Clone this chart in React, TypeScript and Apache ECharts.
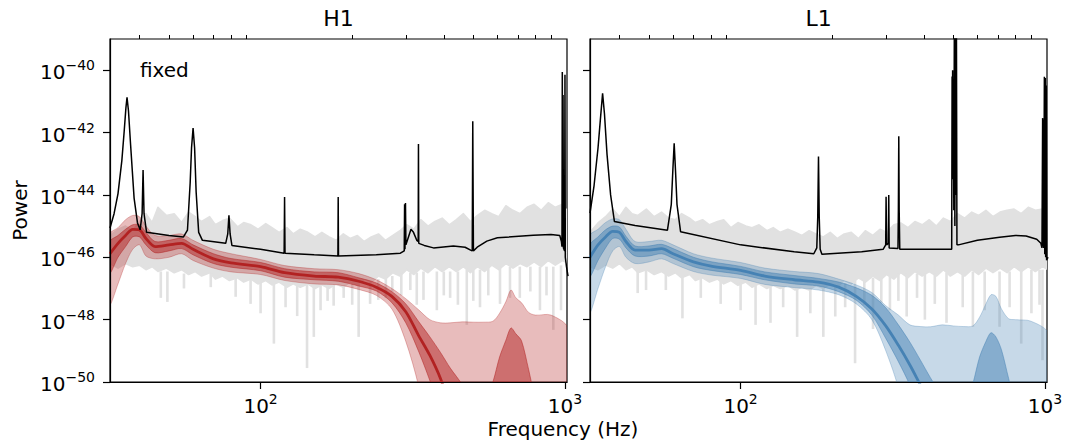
import React, { useEffect, useRef } from "react";
import * as echarts from "echarts";

// ---- axes ----
const FREQ_MIN = 32;
const FREQ_MAX = 1016;
const POWER_MIN = 1e-50;
const POWER_MAX = 1e-39;
const yTickValues = [1e-50, 1e-48, 1e-46, 1e-44, 1e-42, 1e-40];
const xMajorTicks = [100, 1000];
const xMinorTicks = [40, 50, 60, 70, 80, 90, 200, 300, 400, 500, 600, 700, 800, 900];
const panelTitles = ["H1", "L1"];

// ---- measured data (light gray periodogram: upper / lower edge of the dense trace) ----
const grayFreq = [32, 34, 36, 38, 40, 42, 44, 46, 49, 52, 55, 58, 61, 64, 68, 71, 75, 79, 84, 88, 93, 98, 104, 109, 115, 122, 128, 135, 143, 151, 159, 168, 177, 187, 197, 208, 219, 231, 244, 257, 272, 287, 302, 319, 336, 355, 374, 395, 417, 440, 464, 489, 516, 545, 575, 606, 640, 675, 712, 751, 792, 836, 882, 930, 982, 1024];
const h1GrayHi = [5.0e-46, 7.9e-46, 1.0e-45, 7.1e-46, 1.4e-45, 2.5e-45, 1.3e-45, 4.0e-45, 2.2e-45, 2.5e-45, 1.3e-45, 2.8e-45, 2.0e-45, 1.4e-45, 2.0e-45, 1.1e-45, 1.5e-45, 1.8e-45, 9.5e-46, 1.3e-45, 1.1e-45, 7.9e-46, 1.2e-45, 8.9e-46, 6.3e-46, 8.9e-46, 5.6e-46, 7.9e-46, 6.3e-46, 4.5e-46, 6.3e-46, 4.5e-46, 3.5e-46, 5.6e-46, 4.0e-46, 5.0e-46, 3.2e-46, 4.5e-46, 5.6e-46, 3.5e-46, 5.0e-46, 7.1e-46, 1.1e-45, 7.9e-46, 1.6e-45, 1.0e-45, 1.4e-45, 1.8e-45, 1.1e-45, 1.6e-45, 2.5e-45, 1.4e-45, 2.2e-45, 3.2e-45, 2.5e-45, 2.0e-45, 4.5e-45, 3.2e-45, 2.5e-45, 4.0e-45, 5.0e-45, 3.2e-45, 5.6e-45, 4.0e-45, 5.0e-45, 2.8e-45];
const h1GrayLo = [6.3e-47, 4.5e-47, 6.3e-47, 5.0e-47, 5.6e-47, 4.0e-47, 5.0e-47, 3.5e-47, 4.5e-47, 3.2e-47, 4.0e-47, 2.8e-47, 3.5e-47, 2.5e-47, 3.2e-47, 2.0e-47, 2.5e-47, 1.8e-47, 2.2e-47, 1.6e-47, 2.0e-47, 1.4e-47, 1.8e-47, 1.3e-47, 1.6e-47, 1.1e-47, 1.4e-47, 1.1e-47, 1.4e-47, 1.0e-47, 1.3e-47, 1.0e-47, 1.4e-47, 1.1e-47, 1.6e-47, 1.3e-47, 2.0e-47, 1.6e-47, 2.5e-47, 2.0e-47, 3.2e-47, 2.5e-47, 4.0e-47, 2.8e-47, 4.5e-47, 3.2e-47, 5.0e-47, 3.5e-47, 5.0e-47, 3.5e-47, 5.0e-47, 3.2e-47, 5.0e-47, 3.5e-47, 5.6e-47, 4.0e-47, 6.3e-47, 4.5e-47, 6.3e-47, 5.0e-47, 7.1e-47, 5.0e-47, 7.9e-47, 5.6e-47, 7.9e-47, 6.3e-47];
const l1GrayHi = [6.3e-46, 1.26e-45, 2.0e-45, 3.5e-45, 2.0e-45, 4.0e-45, 2.5e-45, 2.2e-45, 3.5e-45, 2.0e-45, 2.8e-45, 1.8e-45, 1.6e-45, 2.5e-45, 1.8e-45, 1.3e-45, 1.6e-45, 1.1e-45, 1.4e-45, 1.6e-45, 8.9e-46, 1.3e-45, 1.0e-45, 8.9e-46, 1.1e-45, 7.1e-46, 8.9e-46, 6.3e-46, 7.9e-46, 6.3e-46, 5.0e-46, 7.1e-46, 5.6e-46, 4.5e-46, 6.3e-46, 4.0e-46, 5.6e-46, 6.3e-46, 4.0e-46, 7.1e-46, 5.0e-46, 7.9e-46, 6.3e-46, 1.1e-45, 1.26e-45, 8.9e-46, 1.4e-45, 1.1e-45, 1.6e-45, 1.0e-45, 1.8e-45, 1.4e-45, 2.5e-45, 1.8e-45, 2.8e-45, 2.2e-45, 3.2e-45, 2.0e-45, 2.8e-45, 3.2e-45, 3.5e-45, 2.5e-45, 4.0e-45, 3.2e-45, 3.5e-45, 2.0e-45];
const l1GrayLo = [5.0e-47, 4.0e-47, 5.6e-47, 4.5e-47, 6.3e-47, 4.0e-47, 5.0e-47, 3.2e-47, 4.0e-47, 2.8e-47, 3.5e-47, 2.5e-47, 3.2e-47, 2.2e-47, 2.8e-47, 1.8e-47, 2.2e-47, 1.6e-47, 2.0e-47, 1.4e-47, 1.8e-47, 1.26e-47, 1.6e-47, 1.1e-47, 1.4e-47, 1.0e-47, 1.26e-47, 1.0e-47, 1.26e-47, 8.9e-48, 1.1e-47, 8.9e-48, 1.26e-47, 1.0e-47, 1.4e-47, 1.1e-47, 1.8e-47, 1.4e-47, 2.2e-47, 1.6e-47, 2.5e-47, 1.8e-47, 2.8e-47, 2.0e-47, 3.2e-47, 2.2e-47, 3.5e-47, 2.5e-47, 3.5e-47, 2.5e-47, 4.0e-47, 2.5e-47, 3.5e-47, 2.5e-47, 4.0e-47, 2.8e-47, 4.5e-47, 3.2e-47, 4.5e-47, 3.2e-47, 5.0e-47, 3.5e-47, 5.0e-47, 3.5e-47, 5.0e-47, 4.0e-47];

// downward gray spikes: [frequency, top, bottom]
const h1GraySpikes = [
  [47, 3.5e-47, 5.0e-48], [49.4, 3.5e-47, 3.7e-48], [56, 3.0e-47, 1.0e-47], [68.6, 3.0e-47, 1.1e-47],
  [82.8, 2.2e-47, 5.4e-48], [92.7, 2.0e-47, 3.2e-48], [100, 1.6e-47, 1.6e-48], [110.6, 1.4e-47, 1.7e-49],
  [120.8, 1.3e-47, 2.5e-48], [131.9, 1.4e-47, 1.3e-48], [142.1, 1.3e-47, 2.8e-50], [149.6, 1.2e-47, 2.8e-49],
  [157.4, 1.2e-47, 2.0e-48], [166, 1.2e-47, 4.0e-48], [173.8, 1.3e-47, 2.8e-48], [187.5, 1.3e-47, 5.0e-48],
  [200, 1.4e-47, 3.0e-48], [210, 1.5e-47, 2.8e-49], [229, 1.6e-47, 3.2e-48], [243.6, 2.0e-47, 4.3e-48],
  [258, 2.2e-47, 5.0e-48], [270.8, 2.5e-47, 7.9e-48], [290, 3.0e-47, 6.0e-48], [310.5, 3.2e-47, 8.9e-48],
  [326, 3.2e-47, 3.0e-48], [343, 3.5e-47, 4.3e-48], [379.5, 3.5e-47, 2.0e-48], [400, 3.5e-47, 6.0e-48],
  [419.6, 3.5e-47, 5.0e-48], [445, 3.5e-47, 3.0e-48], [476, 4.0e-47, 6.8e-49], [500, 4.0e-47, 4.0e-48],
  [526, 4.0e-47, 2.5e-48], [560, 4.5e-47, 6.0e-48], [612, 4.5e-47, 3.2e-48], [660, 5.0e-47, 5.0e-48],
  [711, 5.0e-47, 5.0e-48], [770, 5.0e-47, 8.0e-48], [828, 5.0e-47, 2.0e-48], [870, 5.0e-47, 6.0e-48],
  [916, 5.0e-47, 4.7e-49], [971, 5.5e-47, 2.0e-48],
];
const l1GraySpikes = [
  [45.9, 5.0e-47, 7.1e-48], [48.9, 4.5e-47, 8.9e-48], [56.8, 4.0e-47, 8.9e-48], [64.4, 3.5e-47, 1.1e-48],
  [74, 2.5e-47, 5.0e-48], [86, 2.0e-47, 3.2e-48], [100, 1.6e-47, 2.0e-48], [112, 1.4e-47, 6.8e-49],
  [125.4, 1.3e-47, 7.9e-49], [138, 1.2e-47, 2.5e-48], [153.4, 1.1e-47, 2.8e-49], [169.5, 1.1e-47, 1.6e-48],
  [187, 1.2e-47, 2.8e-49], [204.7, 1.3e-47, 1.26e-48], [220.6, 1.5e-47, 2.5e-48], [237.8, 1.8e-47, 4.0e-50],
  [255, 2.0e-47, 3.0e-48], [272.4, 2.2e-47, 5.0e-49], [290, 2.5e-47, 3.5e-48], [309.6, 2.5e-47, 2.0e-48],
  [330, 3.0e-47, 4.0e-48], [351.4, 3.0e-47, 1.26e-48], [380, 3.0e-47, 5.0e-48], [403.3, 3.0e-47, 1.0e-48],
  [434.7, 3.0e-47, 3.2e-48], [475, 3.2e-47, 7.9e-49], [537, 3.2e-47, 2.5e-48], [580, 3.5e-47, 5.9e-49],
  [634, 3.5e-47, 2.0e-48], [709.6, 3.5e-47, 5.9e-49], [765.6, 3.5e-47, 2.5e-48], [836, 4.0e-47, 1.7e-49],
  [903, 4.0e-47, 1.6e-48], [960, 4.0e-47, 3.0e-48], [982, 4.0e-47, 5.0e-50],
];

// ---- black "fixed" noise model curves: [frequency, power] ----
const h1Fixed = [
  [32, 8.7e-46], [33, 2.5e-45], [34, 1.1e-44], [35, 1.26e-43], [35.6, 1.0e-42], [36.1, 6.3e-42], [36.4, 1.35e-41],
  [36.8, 5.0e-42], [37.4, 4.0e-43], [38.4, 7.9e-45], [39.4, 1.26e-45], [40.2, 7.6e-46], [40.8, 2.5e-45],
  [41.1, 6.3e-44], [41.4, 2.5e-45], [42.2, 6.3e-46], [50, 5.0e-46], [55.8, 4.5e-46], [57.5, 7.4e-46],
  [58.7, 2.5e-44], [59.3, 3.2e-43], [60.0, 1.4e-42], [60.7, 3.2e-43], [61.4, 1.26e-44], [62.6, 6.3e-46],
  [64.4, 3.5e-46], [76.8, 2.8e-46], [78.0, 5.6e-46], [78.7, 2.2e-45], [79.4, 5.6e-46], [80.5, 2.4e-46],
  [100, 1.8e-46], [119.5, 1.35e-46], [119.9, 8.5e-45], [120.3, 1.35e-46], [150, 1.2e-46], [179.5, 1.1e-46],
  [179.9, 8.5e-45], [180.3, 1.1e-46], [240, 1.2e-46], [288, 1.35e-46], [296.5, 1.6e-46], [297.3, 5.0e-45],
  [298.2, 1.8e-46], [299.3, 5.5e-45], [300.3, 2.5e-46], [305, 4.0e-46], [312, 7.9e-46], [318, 6.3e-46],
  [326, 3.5e-46], [329.5, 3.2e-46], [330.2, 4.3e-43], [331, 2.8e-46], [345, 2.4e-46], [370, 2.0e-46],
  [430, 2.3e-46], [470, 2.1e-46], [490, 1.7e-46], [496, 1.6e-46], [498, 2.3e-42], [500.5, 1.6e-46],
  [515, 2.1e-46], [554, 3.3e-46], [600, 4.2e-46], [787, 5.1e-46], [900, 5.4e-46], [962, 5.0e-46],
  [974, 3.2e-46], [978, 2.2e-46], [980.5, 8.7e-41], [983, 2.5e-46], [986, 1.6e-41], [989, 2.0e-46],
  [998, 1.6e-46], [1000.5, 7.1e-41], [1003, 1.0e-46], [1012, 5.0e-47], [1024, 2.5e-47],
];
const l1Fixed = [
  [32, 2.6e-45], [33, 2.0e-44], [34, 3.2e-43], [34.6, 2.5e-42], [35.2, 1.8e-41], [35.7, 4.0e-42],
  [36.4, 2.0e-43], [37.4, 1.0e-44], [38.5, 1.4e-45], [45, 1.05e-45], [57.5, 7.4e-46], [59.2, 5.0e-45],
  [59.9, 6.3e-44], [60.5, 4.5e-43], [61.1, 6.3e-44], [61.8, 5.0e-45], [63.5, 6.6e-46], [100, 2.5e-46],
  [150, 1.5e-46], [174, 1.3e-46], [178, 2.0e-46], [179.3, 2.0e-45], [180.3, 1.7e-43], [181.3, 2.0e-45],
  [182.6, 1.8e-46], [185, 1.26e-46], [250, 1.5e-46], [294, 1.8e-46], [299.8, 2.5e-46], [300.7, 8.7e-45],
  [301.8, 2.5e-46], [305.8, 2.8e-46], [306.8, 1.0e-44], [307.8, 2.0e-46], [329, 1.9e-46], [330, 3.2e-45],
  [331, 7.6e-43], [332, 3.2e-45], [333.5, 1.8e-46], [494, 1.8e-46], [495.5, 6.3e-41], [496.5, 3.2e-44],
  [497.5, 1.0e-40], [499, 1.0e-43], [500.5, 5.0e-41], [502, 3.2e-45], [504, 3.2e-39], [506, 1.0e-45],
  [508, 3.2e-39], [510, 1.0e-44], [512, 3.2e-39], [514, 2.5e-46], [520, 2.5e-46], [600, 3.5e-46],
  [710, 4.4e-46], [800, 5.0e-46], [867, 4.8e-46], [940, 3.8e-46], [970, 2.8e-46], [978, 2.0e-46],
  [983, 2.9e-42], [985, 2.2e-46], [988, 2.5e-42], [991, 2.0e-46], [996, 6.2e-41], [999, 1.26e-46],
  [1003, 5.6e-41], [1006, 1.0e-46], [1010, 3.2e-41], [1013, 8.0e-47], [1024, 1.0e-46],
];

// ---- posterior bands (median, 50% and 90% intervals) ----
const bandFreq = [32, 34, 36, 38, 40, 42, 45, 50, 55, 60, 70, 80, 100, 120, 150, 180, 210, 240, 270, 300, 330, 360, 390, 420, 460, 500, 540, 580, 610, 640, 665, 690, 720, 760, 800, 900, 1024];
const h1Median = [1.3e-46, 2.8e-46, 5.0e-46, 7.9e-46, 7.6e-46, 4.0e-46, 2.2e-46, 2.5e-46, 2.8e-46, 1.8e-46, 8.9e-47, 6.6e-47, 5.0e-47, 3.2e-47, 2.5e-47, 2.3e-47, 1.7e-47, 1.1e-47, 5.6e-48, 1.8e-48, 3.2e-49, 7.1e-50, 1.3e-50, 1.6e-51, 2.0e-52, 2.0e-53, 1e-54, 1e-54, 1e-54, 1e-54, 1e-54, 1e-54, 1e-54, 1e-54, 1e-54, 1e-54, 1e-54];
const h1InnerHi = [3.2e-46, 5.0e-46, 7.9e-46, 1.1e-45, 1.1e-45, 6.3e-46, 3.2e-46, 3.5e-46, 4.0e-46, 2.5e-46, 1.3e-46, 9.1e-47, 6.8e-47, 4.3e-47, 3.4e-47, 3.2e-47, 2.2e-47, 1.5e-47, 7.9e-48, 3.2e-48, 8.9e-49, 2.8e-49, 8.9e-50, 2.8e-50, 7.9e-51, 1.0e-51, 1.6e-51, 1.0e-50, 6.3e-50, 2.2e-49, 5.4e-49, 3.5e-49, 2.1e-49, 2.5e-50, 3.2e-51, 3.2e-52, 1.0e-52];
const h1InnerLo = [3.2e-47, 1.0e-46, 2.2e-46, 4.5e-46, 4.5e-46, 2.5e-46, 1.4e-46, 1.6e-46, 1.9e-46, 1.2e-46, 6.3e-47, 4.8e-47, 3.7e-47, 2.3e-47, 1.9e-47, 1.7e-47, 1.2e-47, 8.3e-48, 3.5e-48, 7.9e-49, 1.0e-49, 1.1e-50, 1.0e-51, 1.0e-52, 1e-54, 1e-54, 1e-54, 1e-54, 1e-54, 1e-54, 1e-54, 1e-54, 1e-54, 1e-54, 1e-54, 1e-54, 1e-54];
const h1OuterHi = [5.6e-46, 8.9e-46, 1.6e-45, 2.2e-45, 2.0e-45, 1.0e-45, 5.0e-46, 5.0e-46, 5.6e-46, 3.5e-46, 1.8e-46, 1.3e-46, 8.5e-47, 5.4e-47, 4.3e-47, 4.0e-47, 3.0e-47, 1.9e-47, 1.0e-47, 4.7e-48, 2.1e-48, 1.0e-48, 7.9e-49, 7.9e-49, 8.5e-49, 8.3e-49, 8.3e-49, 8.9e-49, 1.6e-48, 3.8e-48, 8.9e-48, 5.0e-48, 3.5e-48, 1.7e-48, 1.4e-48, 1.4e-48, 5.0e-49];
const h1OuterLo = [3.2e-48, 1.4e-47, 6.3e-47, 1.8e-46, 2.5e-46, 1.1e-46, 8.9e-47, 1.0e-46, 1.3e-46, 7.9e-47, 4.5e-47, 3.4e-47, 2.8e-47, 1.8e-47, 1.4e-47, 1.3e-47, 9.3e-48, 6.0e-48, 2.2e-48, 2.0e-49, 7.9e-51, 1.0e-52, 1e-54, 1e-54, 1e-54, 1e-54, 1e-54, 1e-54, 1e-54, 1e-54, 1e-54, 1e-54, 1e-54, 1e-54, 1e-54, 1e-54, 1e-54];
const l1Median = [1.0e-46, 2.5e-46, 4.5e-46, 6.8e-46, 6.3e-46, 3.2e-46, 1.7e-46, 1.7e-46, 1.9e-46, 1.3e-46, 7.1e-47, 5.2e-47, 3.8e-47, 2.5e-47, 1.9e-47, 1.6e-47, 1.1e-47, 5.6e-48, 2.2e-48, 6.3e-49, 1.5e-49, 3.5e-50, 7.9e-51, 2.0e-51, 2.5e-52, 1e-54, 1e-54, 1e-54, 1e-54, 1e-54, 1e-54, 1e-54, 1e-54, 1e-54, 1e-54, 1e-54, 1e-54];
const l1InnerHi = [2.5e-46, 4.5e-46, 7.6e-46, 1.0e-45, 9.3e-46, 4.7e-46, 2.3e-46, 2.3e-46, 2.6e-46, 1.9e-46, 1.0e-46, 7.2e-47, 5.1e-47, 3.4e-47, 2.6e-47, 2.1e-47, 1.6e-47, 1.05e-47, 6.0e-48, 2.4e-48, 6.8e-49, 1.9e-49, 5.0e-50, 1.4e-50, 3.2e-51, 5.0e-52, 1.0e-51, 8.9e-51, 6.3e-50, 2.0e-49, 3.8e-49, 2.8e-49, 1.07e-49, 1.3e-50, 2.0e-51, 3.2e-52, 1.0e-52];
const l1InnerLo = [2.5e-47, 7.9e-47, 2.0e-46, 4.0e-46, 3.8e-46, 2.0e-46, 1.1e-46, 1.1e-46, 1.3e-46, 9.3e-47, 5.0e-47, 3.8e-47, 2.8e-47, 1.9e-47, 1.4e-47, 1.2e-47, 7.9e-48, 4.2e-48, 1.4e-48, 2.5e-49, 4.5e-50, 7.9e-51, 1.0e-51, 1.0e-52, 1e-54, 1e-54, 1e-54, 1e-54, 1e-54, 1e-54, 1e-54, 1e-54, 1e-54, 1e-54, 1e-54, 1e-54, 1e-54];
const l1OuterHi = [5.0e-46, 7.9e-46, 1.3e-45, 1.7e-45, 1.6e-45, 7.9e-46, 3.2e-46, 3.2e-46, 3.5e-46, 2.5e-46, 1.3e-46, 9.5e-47, 6.8e-47, 4.5e-47, 3.5e-47, 3.0e-47, 2.0e-47, 1.3e-47, 7.4e-48, 2.8e-48, 1.4e-48, 6.8e-49, 6.0e-49, 5.9e-49, 6.8e-49, 6.3e-49, 6.0e-49, 6.3e-49, 1.2e-48, 3.2e-48, 6.3e-48, 5.6e-48, 2.2e-48, 1.07e-48, 1.0e-48, 8.9e-49, 3.5e-49];
const l1OuterLo = [1.8e-48, 1.0e-47, 5.0e-47, 1.6e-46, 2.2e-46, 1.0e-46, 6.3e-47, 7.1e-47, 8.9e-47, 6.3e-47, 3.5e-47, 2.7e-47, 2.1e-47, 1.35e-47, 1.07e-47, 8.9e-48, 6.3e-48, 3.2e-48, 1.0e-48, 1.0e-49, 6.3e-51, 1.0e-52, 1e-54, 1e-54, 1e-54, 1e-54, 1e-54, 1e-54, 1e-54, 1e-54, 1e-54, 1e-54, 1e-54, 1e-54, 1e-54, 1e-54, 1e-54];

// ---- styling ----
const GRAY = "#e1e1e1";
const FONT = "DejaVu Sans";
const RED = [178, 34, 34];
const BLUE = [70, 130, 180];
const rgba = (c: number[], a: number) => `rgba(${c[0]},${c[1]},${c[2]},${a})`;

// ECharts rounds numbers to at most 20 decimals internally, so powers are handed to it
// in units of 1e-46; the axis labels convert back to the real powers.
const POWER_UNIT = 1e-46;
const UNIT_EXP = -46;
const toPlot = (v: number) => Number((v / POWER_UNIT).toPrecision(12));

const pairs = (xs: number[], ys: number[]) => xs.map((x, i) => [x, toPlot(ys[i])]);

const powLabel = (v: number) => {
  const e = Math.round(Math.log10(v)) + UNIT_EXP;
  return `{b|10}{s|${e < 0 ? "\u2212" + -e : e}}`;
};
const xLabel = (v: number) => {
  const e = Math.round(Math.log10(v));
  return `{b|10}{s|${e}}`;
};
const labelRich = {
  b: { fontFamily: FONT, fontSize: 20, lineHeight: 24, verticalAlign: "bottom", color: "#000" },
  s: { fontFamily: FONT, fontSize: 14, lineHeight: 14, verticalAlign: "top", color: "#000" },
};

// a filled region between two curves, drawn as one polygon through the axes' coordinate mapping
function regionSeries(xi: number, yi: number, freq: number[], lo: number[], hi: number[], fill: string, stroke: string, lineWidth: number, smooth: number) {
  const rows = freq.map((f, i) => [f, toPlot(lo[i]), toPlot(hi[i])]);
  return {
    type: "custom", xAxisIndex: xi, yAxisIndex: yi, silent: true, clip: true,
    data: rows, encode: { x: 0, y: [1, 2] },
    renderItem: (params: any, api: any) => {
      if (params.dataIndex !== 0) return { type: "group", children: [] };
      const upper = rows.map((r) => api.coord([r[0], r[2]]));
      const lower = rows.map((r) => api.coord([r[0], r[1]])).reverse();
      return {
        type: "polygon",
        shape: { points: upper.concat(lower), smooth },
        style: { fill, stroke, lineWidth, lineJoin: "round" },
      };
    },
  };
}

function spikeSeries(xi: number, yi: number, spikes: number[][]) {
  return {
    type: "custom", xAxisIndex: xi, yAxisIndex: yi, silent: true, clip: true,
    data: spikes.map((s) => [s[0], toPlot(s[1]), toPlot(s[2])]), encode: { x: 0, y: [1, 2] },
    renderItem: (_p: any, api: any) => {
      const f = api.value(0);
      const a = api.coord([f, api.value(1)]);
      const b = api.coord([f, api.value(2)]);
      return { type: "line", shape: { x1: a[0], y1: a[1], x2: b[0], y2: b[1] }, style: { stroke: GRAY, lineWidth: 2.6 } };
    },
  };
}

function panelSeries(p: number, d: any) {
  const xi = p * 2, yi = p;
  return [
    regionSeries(xi, yi, grayFreq, d.grayLo, d.grayHi, GRAY, GRAY, 1.6, 0),
    spikeSeries(xi, yi, d.spikes),
    regionSeries(xi, yi, bandFreq, d.outerLo, d.outerHi, rgba(d.color, 0.3), rgba(d.color, 0.3), 1, 0.3),
    regionSeries(xi, yi, bandFreq, d.innerLo, d.innerHi, rgba(d.color, 0.5), rgba(d.color, 0.5), 1, 0.3),
    { type: "line", xAxisIndex: xi, yAxisIndex: yi, symbol: "none", smooth: 0.3, silent: true, data: pairs(bandFreq, d.median), lineStyle: { color: rgba(d.color, 1), width: 2.8 } },
    { type: "line", xAxisIndex: xi, yAxisIndex: yi, symbol: "none", silent: true, data: d.fixed.map((q: number[]) => [q[0], toPlot(q[1])]), lineStyle: { color: "#000", width: 1.5 } },
  ];
}

const GRID_TOP = 39, GRID_H = 343, GRID_W = 457;
const gridLefts = [110, 590];

function makeXAxes(gridIndex: number) {
  const base = { type: "log", logBase: 10, gridIndex, min: FREQ_MIN, max: FREQ_MAX, z: 10, splitLine: { show: false } };
  return [
    {
      ...base,
      axisLine: { show: true, onZero: false, lineStyle: { color: "#000", width: 1.2 } },
      axisTick: { show: true, inside: false, length: 7, customValues: xMajorTicks, lineStyle: { color: "#000", width: 1.2 } },
      axisLabel: { show: true, customValues: xMajorTicks, margin: 10, formatter: xLabel, rich: labelRich },
    },
    {
      ...base,
      axisLine: { show: false },
      axisTick: { show: true, inside: false, length: 4, customValues: xMinorTicks, lineStyle: { color: "#000", width: 1 } },
      axisLabel: { show: false },
    },
  ];
}
function makeYAxis(gridIndex: number, labels: boolean) {
  const ticks = yTickValues.map(toPlot);
  return {
    type: "log", logBase: 10, gridIndex, min: toPlot(POWER_MIN), max: toPlot(POWER_MAX), z: 10,
    splitLine: { show: false },
    axisLine: { show: true, onZero: false, lineStyle: { color: "#000", width: 1.2 } },
    axisTick: { show: true, inside: false, length: 7, customValues: ticks, lineStyle: { color: "#000", width: 1.2 } },
    axisLabel: { show: labels, customValues: ticks, margin: 15, formatter: powLabel, rich: labelRich },
  };
}

export default function App() {
  const ref = useRef<HTMLDivElement>(null);
  useEffect(() => {
    document.body.style.margin = "0";
    if (!ref.current) return;
    const chart = echarts.init(ref.current, undefined, { renderer: "svg" });
    const panels = [
      { grayHi: h1GrayHi, grayLo: h1GrayLo, spikes: h1GraySpikes, fixed: h1Fixed, median: h1Median, innerHi: h1InnerHi, innerLo: h1InnerLo, outerHi: h1OuterHi, outerLo: h1OuterLo, color: RED },
      { grayHi: l1GrayHi, grayLo: l1GrayLo, spikes: l1GraySpikes, fixed: l1Fixed, median: l1Median, innerHi: l1InnerHi, innerLo: l1InnerLo, outerHi: l1OuterHi, outerLo: l1OuterLo, color: BLUE },
    ];
    const textStyle = (size: number) => `${size}px "${FONT}"`;
    chart.setOption({
      animation: false,
      grid: gridLefts.map((left) => ({ left, top: GRID_TOP, width: GRID_W, height: GRID_H, show: true, borderColor: "#000", borderWidth: 1.2, backgroundColor: "transparent" })),
      xAxis: [...makeXAxes(0), ...makeXAxes(1)],
      yAxis: [makeYAxis(0, true), makeYAxis(1, false)],
      graphic: [
        ...panelTitles.map((t, i) => ({ type: "text", x: gridLefts[i] + GRID_W / 2, y: 7, style: { text: t, font: textStyle(22), fill: "#000", textAlign: "center", textVerticalAlign: "top", verticalAlign: "top" } })),
        { type: "text", x: 140, y: 60, style: { text: "fixed", font: textStyle(20), fill: "#000", textAlign: "left", textVerticalAlign: "top", verticalAlign: "top" } },
        { type: "text", x: 20, y: GRID_TOP + GRID_H / 2, rotation: Math.PI / 2, style: { text: "Power", font: textStyle(20), fill: "#000", textAlign: "center", textVerticalAlign: "middle", verticalAlign: "middle" } },
        { type: "text", x: 563, y: 419, style: { text: "Frequency (Hz)", font: textStyle(20), fill: "#000", textAlign: "center", textVerticalAlign: "top", verticalAlign: "top" } },
      ],
      series: [...panelSeries(0, panels[0]), ...panelSeries(1, panels[1])],
    });
    return () => chart.dispose();
  }, []);
  return <div ref={ref} style={{ width: 1068, height: 447 }} />;
}
